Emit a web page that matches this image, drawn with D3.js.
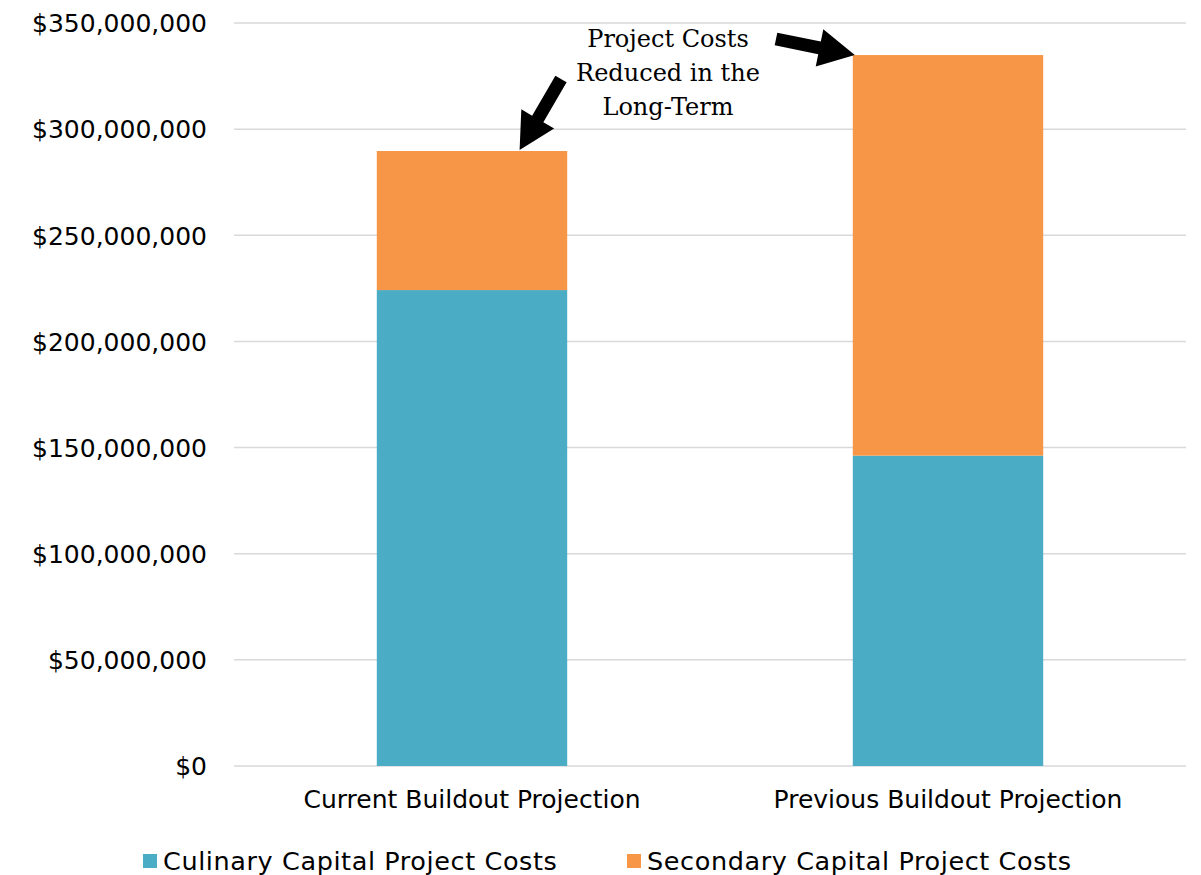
<!DOCTYPE html>
<html>
<head>
<meta charset="utf-8">
<script src="https://cdn.jsdelivr.net/npm/d3@7"></script>
<style>
  body { margin: 0; background: #fff; }
  svg text { fill: #000; }
  .tick-label { font-family: "DejaVu Sans", sans-serif; font-size: 25px; }
  .legend-label { font-family: "DejaVu Sans", sans-serif; font-size: 25.5px; letter-spacing: 0.6px; }
  .note { font-family: "DejaVu Serif", serif; font-size: 24px; }
</style>
</head>
<body>
<div id="chart"></div>
<script>
// Chart data
const categories = ["Current Buildout Projection", "Previous Buildout Projection"];
const seriesNames = ["Culinary Capital Project Costs", "Secondary Capital Project Costs"];
const culinary = [224200000, 146200000];
const secondary = [65500000, 188700000];
const yTicks = [0, 50000000, 100000000, 150000000, 200000000, 250000000, 300000000, 350000000];
const noteLines = ["Project Costs", "Reduced in the", "Long-Term"];
const colours = ["#4bacc6", "#f79646"];

const W = 1201, H = 875;
const margin = { top: 23, right: 15, bottom: 109, left: 234 };
const width = W - margin.left - margin.right;
const height = H - margin.top - margin.bottom;

const svg = d3.select("#chart").append("svg")
    .attr("width", W)
    .attr("height", H);
const g = svg.append("g")
    .attr("transform", `translate(${margin.left},${margin.top})`);

const x = d3.scaleBand()
    .domain(categories)
    .range([0, width])
    .paddingInner(0.6)
    .paddingOuter(0.3);
const y = d3.scaleLinear()
    .domain([0, 350000000])
    .range([height, 0]);

// gridlines
g.append("g")
    .selectAll("line")
    .data(yTicks)
    .join("line")
        .attr("x1", 0)
        .attr("x2", width)
        .attr("y1", d => y(d))
        .attr("y2", d => y(d))
        .attr("stroke", "#d9d9d9")
        .attr("stroke-width", 1.5);

// y axis labels
const fmt = d => "$" + d3.format(",")(d);
g.append("g")
    .call(d3.axisLeft(y).tickValues(yTicks).tickFormat(fmt).tickSize(0).tickPadding(27))
    .call(a => a.select(".domain").remove())
    .call(a => a.selectAll("text").attr("class", "tick-label").attr("dy", "0.35em"));

// stacked bars
const rows = categories.map((c, i) => ({ cat: c, culinary: culinary[i], secondary: secondary[i] }));
const stack = d3.stack().keys(["culinary", "secondary"])(rows);
g.append("g")
    .selectAll("g")
    .data(stack)
    .join("g")
        .attr("fill", (d, i) => colours[i])
    .selectAll("rect")
    .data(d => d)
    .join("rect")
        .attr("x", d => x(d.data.cat))
        .attr("width", x.bandwidth())
        .attr("y", d => y(d[1]))
        .attr("height", d => y(d[0]) - y(d[1]));

// category labels
g.append("g")
    .attr("transform", `translate(0,${height})`)
    .call(d3.axisBottom(x).tickSize(0).tickPadding(24))
    .call(a => a.select(".domain").remove())
    .call(a => a.selectAll("text").attr("class", "tick-label"));

// legend
const legend = svg.append("g").attr("transform", `translate(0,861)`);
const legendX = [143, 627];
seriesNames.forEach((name, i) => {
    legend.append("rect")
        .attr("x", legendX[i])
        .attr("y", -7)
        .attr("width", 14)
        .attr("height", 14)
        .attr("fill", colours[i]);
    legend.append("text")
        .attr("class", "legend-label")
        .attr("x", legendX[i] + 20)
        .attr("dy", "0.35em")
        .text(name);
});

// annotation
const note = svg.append("text")
    .attr("class", "note")
    .attr("text-anchor", "middle")
    .attr("x", 668)
    .attr("y", 47);
noteLines.forEach((t, i) => {
    note.append("tspan").attr("x", 668).attr("dy", i === 0 ? 0 : 34).text(t);
});

// arrows, tip placed on the bar tops
function arrow(x0, y0, x1, y1) {
    const dx = x1 - x0, dy = y1 - y0;
    const len = Math.hypot(dx, dy);
    const ux = dx / len, uy = dy / len;
    const px = -uy, py = ux;
    const sw = 6.5, hw = 19, hl = 36;
    const bx = x1 - ux * hl, by = y1 - uy * hl;
    const pts = [
        [x0 + px * sw, y0 + py * sw],
        [bx + px * sw, by + py * sw],
        [bx + px * hw, by + py * hw],
        [x1, y1],
        [bx - px * hw, by - py * hw],
        [bx - px * sw, by - py * sw],
        [x0 - px * sw, y0 - py * sw]
    ];
    svg.append("path")
        .attr("d", d3.line()(pts) + "Z")
        .attr("fill", "#000");
}
const top0 = culinary[0] + secondary[0];
const top1 = culinary[1] + secondary[1];
arrow(561, 79, margin.left + x(categories[0]) + x.bandwidth() * 0.75, margin.top + y(top0) - 1);
arrow(776, 39, margin.left + x(categories[1]) + 2, margin.top + y(top1));
</script>
</body>
</html>
